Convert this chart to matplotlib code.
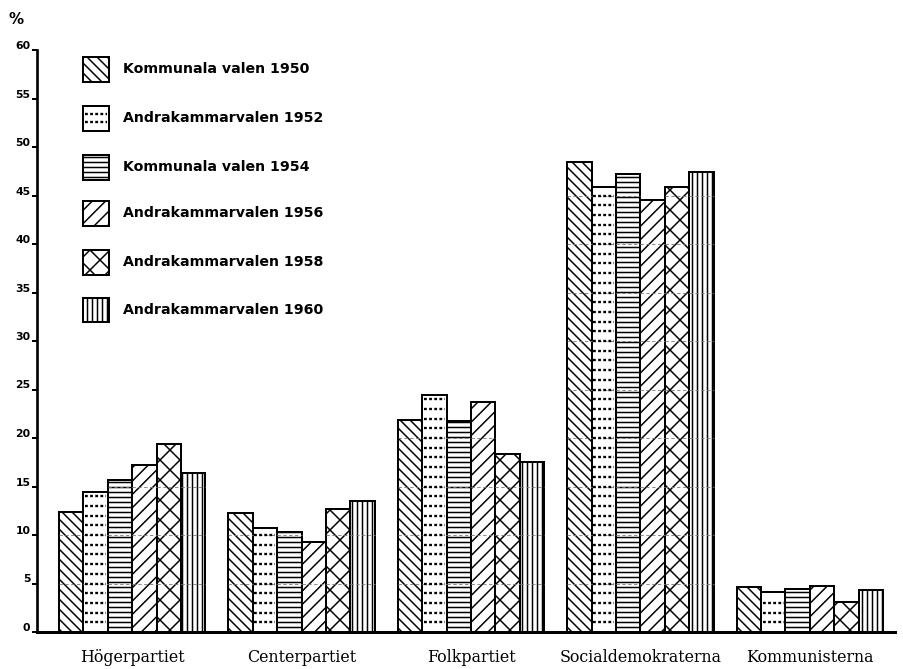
import matplotlib
matplotlib.use("Agg")
import matplotlib.pyplot as plt
from matplotlib.patches import Rectangle
from matplotlib.lines import Line2D
import matplotlib.transforms as mtransforms
import numpy as np

parties = ["Högerpartiet", "Centerpartiet", "Folkpartiet",
           "Socialdemokraterna", "Kommunisterna"]
elections = ["Kommunala valen 1950", "Andrakammarvalen 1952",
             "Kommunala valen 1954", "Andrakammarvalen 1956",
             "Andrakammarvalen 1958", "Andrakammarvalen 1960"]
v1950 = [12.4, 12.3, 21.9, 48.5, 4.6]
v1952 = [14.4, 10.7, 24.4, 45.9, 4.1]
v1954 = [15.7, 10.3, 21.8, 47.2, 4.4]
v1956 = [17.2, 9.3, 23.7, 44.5, 4.7]
v1958 = [19.4, 12.7, 18.3, 45.9, 3.1]
v1960 = [16.4, 13.5, 17.5, 47.4, 4.3]
series = [v1950, v1952, v1954, v1956, v1958, v1960]
yticks = [0, 5, 10, 15, 20, 25, 30, 35, 40, 45, 50, 55, 60]
ytick_labels = ["0", "5", "10", "15", "20", "25", "30", "35", "40", "45", "50", "55", "60"]

hatches = ["\\\\\\\\", "", "----", "///", "xx", "||||"]
DOTTED = 1  # index of the series drawn with dotted rows

plt.rcParams["hatch.linewidth"] = 0.9
W, H, DPI = 903, 669, 120
fig = plt.figure(figsize=(W / DPI, H / DPI), dpi=DPI)
ax = fig.add_axes([37 / W, 37 / H, 858 / W, 582 / H])

bw = 24.5 / 170.0
x = np.arange(len(parties))
n = len(series)
for i, vals in enumerate(series):
    pos = x + (i - (n - 1) / 2) * bw
    ax.bar(pos, vals, width=bw, facecolor="white", edgecolor="black",
           hatch=hatches[i], linewidth=1.2, zorder=2)
    for p, v in zip(pos, vals):
        # faint dashed grid lines visible inside the bars
        levels = [t for t in yticks if 0 < t < v]
        if levels:
            ax.hlines(levels, p - bw / 2, p + bw / 2, colors="#777777",
                      linestyles=(0, (4, 3)), linewidth=0.5, zorder=3)
        if i == DOTTED:
            rows = np.arange(1.0, v - 0.3, 1.0)
            ax.hlines(rows, p - bw / 2 + 0.01, p + bw / 2 - 0.01,
                      colors="black", linestyles=(0, (1.2, 1.0)),
                      linewidth=1.4, zorder=3)

ax.set_xlim(-0.562, 4.503)
ax.set_ylim(0, 60)

for s in ["top", "right"]:
    ax.spines[s].set_visible(False)
ax.spines["left"].set_linewidth(1.6)
ax.spines["bottom"].set_linewidth(1.8)

ax.set_yticks(yticks)
ax.set_yticklabels(ytick_labels, fontsize=6.5, fontweight="bold",
                   family="DejaVu Sans")
ax.tick_params(axis="y", direction="out", length=3, width=1.2, pad=1)
offset = mtransforms.ScaledTranslation(0, 3 / 72, fig.dpi_scale_trans)
for lab in ax.get_yticklabels():
    lab.set_transform(lab.get_transform() + offset)

ax.set_xticks(x)
ax.set_xticklabels(parties, fontsize=9.5, family="DejaVu Serif")
ax.tick_params(axis="x", length=0, pad=10)

# "%" label
fig.text(16 / W, 1 - 20 / H, "%", fontsize=9, fontweight="bold",
         ha="center", va="center")

# legend drawn manually
leg_y = [69, 118, 167, 213, 262, 310]
bx, bwid, bht = 83, 26, 25
for i, lab in enumerate(elections):
    cy = leg_y[i]
    r = Rectangle((bx / W, 1 - (cy + bht / 2) / H), bwid / W, bht / H,
                  transform=fig.transFigure, facecolor="white",
                  edgecolor="black", hatch=hatches[i], linewidth=1.2)
    fig.add_artist(r)
    if i == DOTTED:
        for dy in (-4, 4):
            fig.add_artist(Line2D([(bx + 2) / W, (bx + bwid - 2) / W],
                                  [1 - (cy + dy) / H] * 2,
                                  transform=fig.transFigure, color="black",
                                  linestyle=(0, (1.2, 1.0)), linewidth=1.4))
    fig.text(123 / W, 1 - cy / H, lab, fontsize=8.5, fontweight="bold",
             ha="left", va="center", family="DejaVu Sans")

fig.savefig("out.png", dpi=DPI)
